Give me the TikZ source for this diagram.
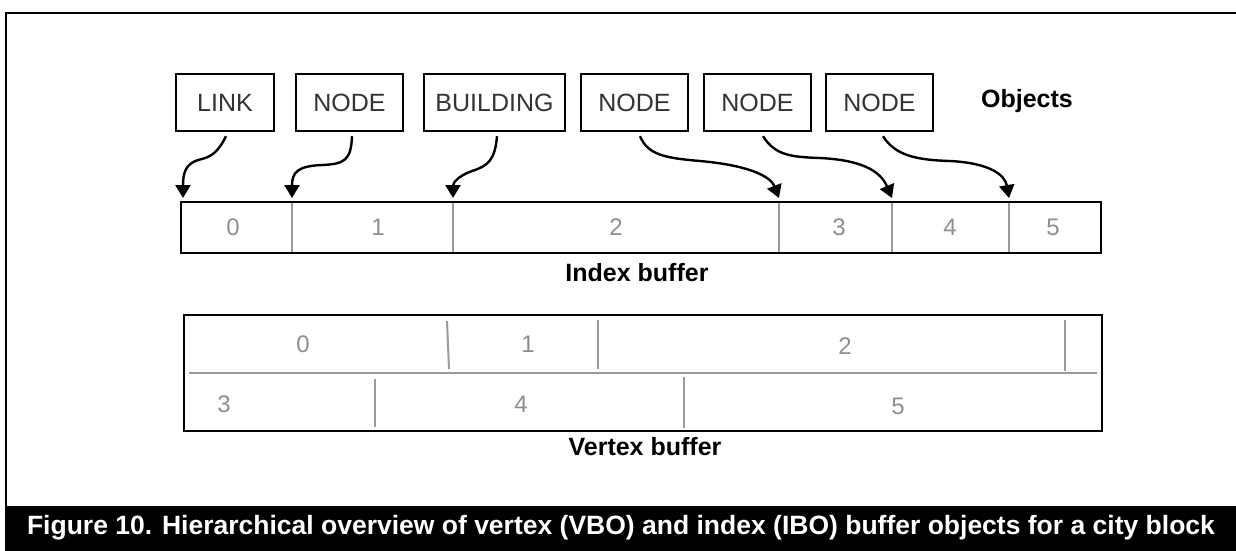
\documentclass[tikz,border=0pt]{standalone}
\usepackage{fontspec}
\setmainfont{Liberation Sans}
\usetikzlibrary{arrows.meta}
\definecolor{boxtext}{HTML}{333333}
\definecolor{numgray}{HTML}{8E8E8E}
\definecolor{divgray}{HTML}{9A9A9A}
\begin{document}
\begin{tikzpicture}[x=1pt,y=-1pt,
  objbox/.style={draw=black, line width=2.4pt, minimum height=57pt, inner sep=0pt, text=boxtext, font=\fontsize{25}{30}\selectfont},
  numlbl/.style={text=numgray, font=\fontsize{24}{28}\selectfont, inner sep=0pt},
  boldlbl/.style={font=\bfseries\fontsize{25}{30}\selectfont, inner sep=0pt},
  bufbox/.style={draw=black, line width=2.6pt, inner sep=0pt},
  divider/.style={draw=divgray, line width=2pt},
  objarrow/.style={line width=2.4pt, -{Triangle[width=15pt,length=13pt]}},
]
\useasboundingbox (0,0) rectangle (1236,550);
\clip (0,0) rectangle (1236,550);
% outer frame and caption bar
\draw[line width=2pt] (6,560) -- (6,13) -- (1250,13);
\fill[black] (5,506) rectangle (1240,552);
\node[text=white, font=\bfseries\fontsize{26.5}{30}\selectfont, inner sep=0pt] (cap) at (621,528)
  {Figure 10. Hierarchical overview of vertex (VBO) and index (IBO) buffer objects for a city block};

% object boxes
\node[objbox, minimum width=98pt]  (link)  at (225,102.5) {LINK};
\node[objbox, minimum width=107pt] (node1) at (349.5,102.5) {NODE};
\node[objbox, minimum width=141pt] (bldg)  at (494.5,102.5) {BUILDING};
\node[objbox, minimum width=107pt] (node4) at (634.5,102.5) {NODE};
\node[objbox, minimum width=107pt] (node5) at (757.5,102.5) {NODE};
\node[objbox, minimum width=107pt] (node6) at (879.5,102.5) {NODE};
\node[boldlbl] (objects) at (1027,101) {Objects};

% index buffer
\node[bufbox, minimum width=920pt, minimum height=51pt] (ibuf) at (641,227.5) {};
\foreach \x in {292,453,779,892,1009} \draw[divider] (\x,203) -- (\x,252);
\node[numlbl] (i0) at (233,227) {0};
\node[numlbl] (i1) at (378,227) {1};
\node[numlbl] (i2) at (616,227) {2};
\node[numlbl] (i3) at (839,227) {3};
\node[numlbl] (i4) at (950,227) {4};
\node[numlbl] (i5) at (1053,227) {5};
\node[boldlbl] (ilbl) at (637,273) {Index buffer};

% arrow targets
\coordinate (t0) at (183,198);
\coordinate (t1) at (292,198);
\coordinate (t2) at (453,198);
\coordinate (t3) at (779,198);
\coordinate (t4) at (892,198);
\coordinate (t5) at (1009,198);

\draw[objarrow] ([xshift=1pt,yshift=-4pt]link.south) .. controls (218,152) and (212,157) .. (198,160) .. controls (186,164) and (183,172) .. (t0);
\draw[objarrow] ([xshift=2.5pt,yshift=-4pt]node1.south) .. controls (351,160) and (345,164) .. (322,165) .. controls (298,166) and (292,172) .. (t1);
\draw[objarrow] ([xshift=2.5pt,yshift=-4pt]bldg.south) .. controls (495,160) and (488,166) .. (472,171) .. controls (458,176) and (453,183) .. (t2);
\draw[objarrow] ([xshift=5.5pt,yshift=-4pt]node4.south) .. controls (648,155) and (665,158) .. (700,161) .. controls (745,165) and (770,175) .. (t3);
\draw[objarrow] ([xshift=5.5pt,yshift=-4pt]node5.south) .. controls (775,155) and (790,157) .. (820,158) .. controls (860,160) and (880,170) .. (t4);
\draw[objarrow] ([xshift=3.5pt,yshift=-4pt]node6.south) .. controls (895,155) and (915,160) .. (950,161) .. controls (990,163) and (1005,175) .. (t5);

% vertex buffer
\node[bufbox, minimum width=918pt, minimum height=116pt] (vbuf) at (643,373) {};
\draw[divider, line width=2.6pt] (189,373) -- (1097,373);
\draw[divider] (447,321) -- (449,369);
\draw[divider] (598,320) -- (598,369);
\draw[divider] (1065,320) -- (1065,371);
\draw[divider] (375,379) -- (375,427);
\draw[divider] (684,377) -- (684,428);
\node[numlbl] (v0) at (303,344) {0};
\node[numlbl] (v1) at (528,344) {1};
\node[numlbl] (v2) at (845,346) {2};
\node[numlbl] (v3) at (224,404) {3};
\node[numlbl] (v4) at (521,404) {4};
\node[numlbl] (v5) at (898,406) {5};
\node[boldlbl] (vlbl) at (645,447) {Vertex buffer};
\end{tikzpicture}
\end{document}
